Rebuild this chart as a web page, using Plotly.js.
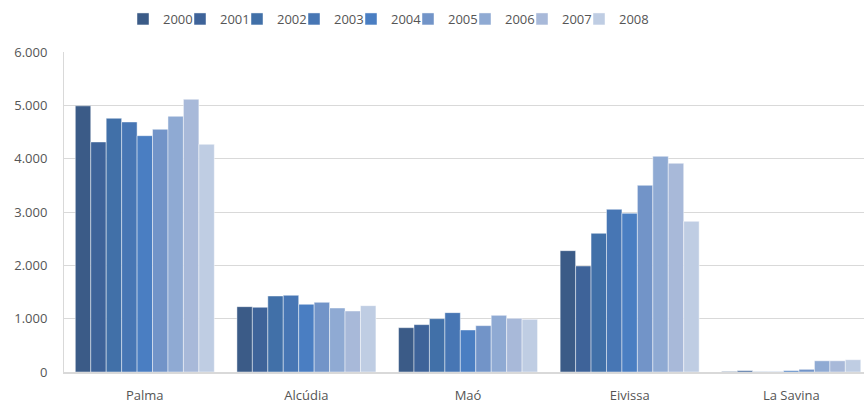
<!DOCTYPE html>
<html><head><meta charset="utf-8">
<script src="https://cdn.plot.ly/plotly-3.0.1.min.js"></script>
<style>body{margin:0;background:#fff}#c{width:864px;height:403px}</style>
</head><body><div id="c"></div>
<script>
const categories = ["Palma", "Alcúdia", "Maó", "Eivissa", "La Savina"];
const years = ["2000","2001","2002","2003","2004","2005","2006","2007","2008"];
const v2000 = [4990, 1225, 831, 2275, 10];
const v2001 = [4313, 1213, 888, 1988, 25];
const v2002 = [4757, 1425, 1000, 2600, 5];
const v2003 = [4688, 1438, 1113, 3050, 5];
const v2004 = [4431, 1269, 788, 2975, 25];
const v2005 = [4550, 1306, 869, 3500, 50];
const v2006 = [4794, 1200, 1063, 4044, 210];
const v2007 = [5113, 1144, 1006, 3913, 210];
const v2008 = [4269, 1244, 988, 2825, 230];
const series = [v2000, v2001, v2002, v2003, v2004, v2005, v2006, v2007, v2008];
const colors = ["#3b5b87","#3e6399","#4170a8","#4776b4","#4a7ec2","#7294c8","#8faad3","#a8b9d9","#bfcde3"];

const legendKeys = series.map((_, i) => i === 0 ? "legend" : "legend" + (i + 1));
const traces = series.map((vals, i) => ({
  type: "bar", name: years[i], x: categories, y: vals, legend: legendKeys[i],
  marker: {color: colors[i], line: {color: "rgba(255,255,255,0.45)", width: 1}}
}));

const txt = "#555555";
const layout = {
  width: 864, height: 403,
  margin: {l: 64, r: 0, t: 52, b: 31},
  font: {family: "Open Sans, sans-serif", size: 13, color: txt},
  separators: ",.",
  barmode: "group", bargap: 0.14, bargroupgap: 0,
  showlegend: true,
  xaxis: {range: [-0.5, 4.45], showline: true, linecolor: "#d9d9d9", linewidth: 2,
          ticks: "", showgrid: false, tickfont: {size: 13, color: txt}, ticklabelstandoff: 10},
  yaxis: {range: [0, 6000], dtick: 1000, tickformat: ",d", showgrid: true, gridcolor: "#d9d9d9",
          gridwidth: 1, showline: true, linecolor: "#d9d9d9", zeroline: false, ticks: "",
          ticklen: 0, tickfont: {size: 13, color: txt}, ticklabelstandoff: 13},
  plot_bgcolor: "#fff", paper_bgcolor: "#fff"
};
const legendStart = 123, legendStep = 57;
legendKeys.forEach((k, i) => {
  layout[k] = {orientation: "h", xref: "container", yref: "container",
    x: (legendStart + i * legendStep) / 864, xanchor: "left",
    y: 1 - 19 / 403, yanchor: "middle", bgcolor: "rgba(0,0,0,0)",
    font: {size: 13, color: txt}, itemwidth: 30};
});
Plotly.newPlot("c", traces, layout, {displayModeBar: false, staticPlot: true});
</script></body></html>
